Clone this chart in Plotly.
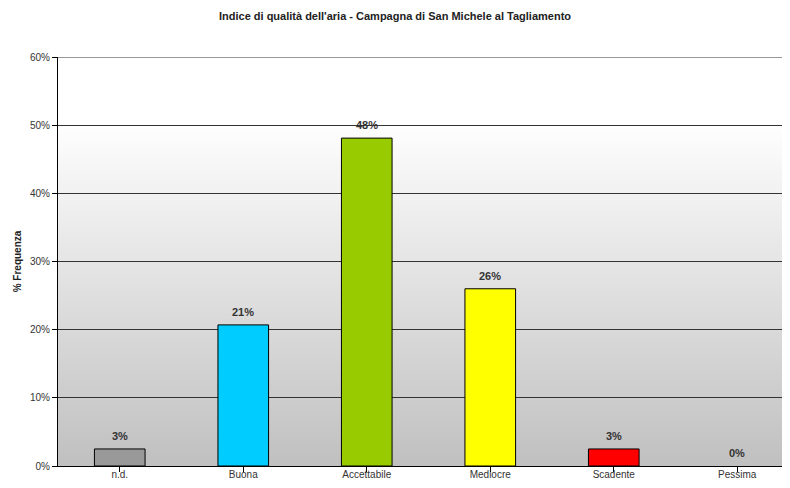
import plotly.graph_objects as go

categories = ["n.d.", "Buona", "Accettabile", "Mediocre", "Scadente", "Pessima"]
values = [2.5, 20.7, 48.1, 26.0, 2.5, 0.0]
labels = ["3%", "21%", "48%", "26%", "3%", "0%"]
colors = ["#999999", "#00ccff", "#99cc00", "#ffff00", "#ff0000", "#9933cc"]
y_ticks = [0, 10, 20, 30, 40, 50, 60]
y_ticklabels = ["0%", "10%", "20%", "30%", "40%", "50%", "60%"]

FONT = "Liberation Sans, Arial, sans-serif"
xs = list(range(len(categories)))

fig = go.Figure()
fig.add_trace(go.Bar(
    x=xs,
    y=values,
    width=0.41,
    marker=dict(color=colors,
                line=dict(color="#000000", width=[1 if v > 0 else 0 for v in values])),
    hoverinfo="skip",
))

annotations = [
    dict(x=x, y=v, xref="x", yref="y", text="<b>" + s + "</b>", showarrow=False,
         yanchor="bottom", yshift=5,
         font=dict(family=FONT, size=11, color="#333333"))
    for x, v, s in zip(xs, values, labels)
]

# vertical gradient background (white top -> gray bottom)
shapes = []
n = 80
for i in range(n):
    y0 = i / n
    y1 = (i + 1) / n
    t = (i + 0.5) / n  # 0 bottom, 1 top
    g = int(round(192 + (255 - 192) * min(1.0, t / 0.85)))
    shapes.append(dict(type="rect", xref="paper", yref="paper", x0=0, x1=1,
                       y0=y0, y1=y1 + 0.002, fillcolor=f"rgb({g},{g},{g})",
                       line=dict(width=0), layer="below"))
# top border gridline at 60%
shapes.append(dict(type="line", xref="paper", yref="y", x0=0, x1=1,
                   y0=y_ticks[-1], y1=y_ticks[-1],
                   line=dict(color="#333333", width=1), layer="below"))

fig.update_layout(
    width=782, height=472,
    margin=dict(l=50, r=0, t=49, b=14),
    paper_bgcolor="white",
    plot_bgcolor="rgba(0,0,0,0)",
    shapes=shapes,
    annotations=annotations,
    showlegend=False,
    font=dict(family=FONT, size=10, color="#333333"),
    title=dict(text="<b>Indice di qualità dell'aria - Campagna di San Michele al Tagliamento</b>",
               x=387 / 782, xanchor="center", yref="container", y=1 - 8 / 472, yanchor="middle",
               font=dict(family=FONT, size=11, color="#222222")),
)
fig.update_xaxes(
    range=[-0.5, 5.427],
    automargin=False,
    tickmode="array",
    tickvals=xs,
    ticktext=categories,
    tickson="boundaries",
    ticks="outside", ticklen=5, tickcolor="#000000",
    ticklabelstandoff=-6,
    showline=True, linecolor="#000000", linewidth=1,
    showgrid=False, zeroline=False,
    tickfont=dict(family=FONT, size=10, color="#333333"),
)
fig.update_yaxes(
    range=[0, 60],
    automargin=False,
    tickmode="array", tickvals=y_ticks, ticktext=y_ticklabels,
    ticks="outside", ticklen=5, tickcolor="#000000",
    showline=True, linecolor="#000000", linewidth=1,
    showgrid=True, gridcolor="#333333", gridwidth=1,
    zeroline=False,
    tickfont=dict(family=FONT, size=10, color="#333333"),
    title=dict(text="<b>% Frequenza</b>", standoff=6,
               font=dict(family=FONT, size=10, color="#222222")),
)

fig.write_html("out.html")
